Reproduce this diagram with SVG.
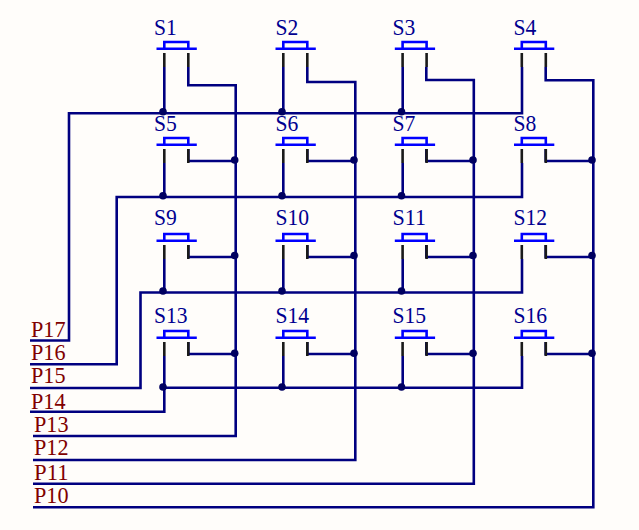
<svg xmlns="http://www.w3.org/2000/svg" xmlns:xlink="http://www.w3.org/1999/xlink" width="639" height="530" viewBox="0 0 639 530">
<style>
.w{fill:none;stroke:#000080;stroke-width:2.600}
.b{fill:none;stroke:#0000ff;stroke-width:2.600}
.p{stroke:#1a1a1a;stroke-width:2.600;fill:none}
.d{fill:#000060}
.s{font:24px "Liberation Serif",serif;fill:#000090}
.n{font:24px "Liberation Serif",serif;fill:#800000}
</style>
<defs>
<g id="sw">
<path class="b" d="M156.500 48.800H196.800M164.300 48.800V42H188.300V48.800"/>
<path class="p" d="M164.300 53V67M188.300 53V67"/>
</g>
</defs>
<rect width="639" height="530" fill="#fffdfa"/>
<g id="connectors">
<path class="w" d="M30 340.500H69V113.300H522V67M164.300 67V113M283.300 67V113M402.700 67V113"/>
<path class="w" d="M30 364.300H116.700V197H522V163M164.300 163V197M283.300 163V197M402.700 163V197"/>
<path class="w" d="M30 388H140.500V292.500H522V259M164.300 259V292.500M283.300 259V292.500M402.700 259V292.500"/>
<path class="w" d="M30 411.700H164.300V356M164.300 387.800H522V356M283.300 356V387.800M402.700 356V387.800"/>
<path class="w" d="M33 436H235.700V85.300H188.300V67"/>
<path class="w" d="M33 460H355.300V82H307.300V67"/>
<path class="w" d="M33 483.700H473.800V80H426.300V67"/>
<path class="w" d="M33 507.300H593.300V80.300H545.700V67"/>
<path class="w" d="M188.300 149V161H235.700M307.300 149V161H355.300M426.300 149V161H473.800M545.700 149V161H593.300M188.300 245V257H235.700M307.300 245V257H355.300M426.300 245V257H473.800M545.700 245V257H593.300M188.300 342V354H235.700M307.300 342V354H355.300M426.300 342V354H473.800M545.700 342V354H593.300"/>
</g>
<g id="junctions" class="d">
<circle cx="163" cy="111.700" r="3.800"/><circle cx="282" cy="111.700" r="3.800"/><circle cx="401.500" cy="111.700" r="3.800"/>
<circle cx="163" cy="195.800" r="3.800"/><circle cx="282" cy="195.800" r="3.800"/><circle cx="401.500" cy="195.800" r="3.800"/>
<circle cx="163" cy="291" r="3.800"/><circle cx="282" cy="291" r="3.800"/><circle cx="401.500" cy="291" r="3.800"/>
<circle cx="163" cy="387" r="3.800"/><circle cx="282" cy="387" r="3.800"/><circle cx="401.500" cy="387" r="3.800"/>
<circle cx="234.700" cy="160" r="3.800"/><circle cx="354" cy="160" r="3.800"/><circle cx="473" cy="160" r="3.800"/><circle cx="592" cy="160" r="3.800"/>
<circle cx="234.700" cy="255.500" r="3.800"/><circle cx="354" cy="255.500" r="3.800"/><circle cx="473" cy="255.500" r="3.800"/><circle cx="592" cy="255.500" r="3.800"/>
<circle cx="234.700" cy="353.300" r="3.800"/><circle cx="354" cy="353.300" r="3.800"/><circle cx="473" cy="353.300" r="3.800"/><circle cx="592" cy="353.300" r="3.800"/>
</g>
<g id="S1"><use xlink:href="#sw"/><text class="s" x="154" y="35" textLength="22.800" lengthAdjust="spacingAndGlyphs">S1</text></g>
<g id="S2"><use xlink:href="#sw" x="119"/><text class="s" x="275.500" y="35" textLength="22.800" lengthAdjust="spacingAndGlyphs">S2</text></g>
<g id="S3"><use xlink:href="#sw" x="238.300"/><text class="s" x="392.500" y="35" textLength="22.800" lengthAdjust="spacingAndGlyphs">S3</text></g>
<g id="S4"><use xlink:href="#sw" x="357.500"/><text class="s" x="513.500" y="35" textLength="22.800" lengthAdjust="spacingAndGlyphs">S4</text></g>
<g id="S5"><use xlink:href="#sw" y="96"/><text class="s" x="154" y="130.500" textLength="22.800" lengthAdjust="spacingAndGlyphs">S5</text></g>
<g id="S6"><use xlink:href="#sw" x="119" y="96"/><text class="s" x="275.500" y="130.500" textLength="22.800" lengthAdjust="spacingAndGlyphs">S6</text></g>
<g id="S7"><use xlink:href="#sw" x="238.300" y="96"/><text class="s" x="392.500" y="130.500" textLength="22.800" lengthAdjust="spacingAndGlyphs">S7</text></g>
<g id="S8"><use xlink:href="#sw" x="357.500" y="96"/><text class="s" x="513.500" y="130.500" textLength="22.800" lengthAdjust="spacingAndGlyphs">S8</text></g>
<g id="S9"><use xlink:href="#sw" y="192"/><text class="s" x="154" y="225" textLength="22.800" lengthAdjust="spacingAndGlyphs">S9</text></g>
<g id="S10"><use xlink:href="#sw" x="119" y="192"/><text class="s" x="275.500" y="225" textLength="33.600" lengthAdjust="spacingAndGlyphs">S10</text></g>
<g id="S11"><use xlink:href="#sw" x="238.300" y="192"/><text class="s" x="392.500" y="225" textLength="33.600" lengthAdjust="spacingAndGlyphs">S11</text></g>
<g id="S12"><use xlink:href="#sw" x="357.500" y="192"/><text class="s" x="513.500" y="225" textLength="33.600" lengthAdjust="spacingAndGlyphs">S12</text></g>
<g id="S13"><use xlink:href="#sw" y="289"/><text class="s" x="154" y="323" textLength="33.600" lengthAdjust="spacingAndGlyphs">S13</text></g>
<g id="S14"><use xlink:href="#sw" x="119" y="289"/><text class="s" x="275.500" y="323" textLength="33.600" lengthAdjust="spacingAndGlyphs">S14</text></g>
<g id="S15"><use xlink:href="#sw" x="238.300" y="289"/><text class="s" x="392.500" y="323" textLength="33.600" lengthAdjust="spacingAndGlyphs">S15</text></g>
<g id="S16"><use xlink:href="#sw" x="357.500" y="289"/><text class="s" x="513.500" y="323" textLength="33.600" lengthAdjust="spacingAndGlyphs">S16</text></g>
<g id="ports">
<text class="n" x="31" y="337" textLength="34.500" lengthAdjust="spacingAndGlyphs">P17</text>
<text class="n" x="31" y="360" textLength="34.500" lengthAdjust="spacingAndGlyphs">P16</text>
<text class="n" x="31" y="383" textLength="34.500" lengthAdjust="spacingAndGlyphs">P15</text>
<text class="n" x="31" y="408.500" textLength="34.500" lengthAdjust="spacingAndGlyphs">P14</text>
<text class="n" x="34" y="431.500" textLength="34.500" lengthAdjust="spacingAndGlyphs">P13</text>
<text class="n" x="34" y="454.500" textLength="34.500" lengthAdjust="spacingAndGlyphs">P12</text>
<text class="n" x="34" y="480" textLength="34.500" lengthAdjust="spacingAndGlyphs">P11</text>
<text class="n" x="34" y="503" textLength="34.500" lengthAdjust="spacingAndGlyphs">P10</text>
</g>
</svg>
